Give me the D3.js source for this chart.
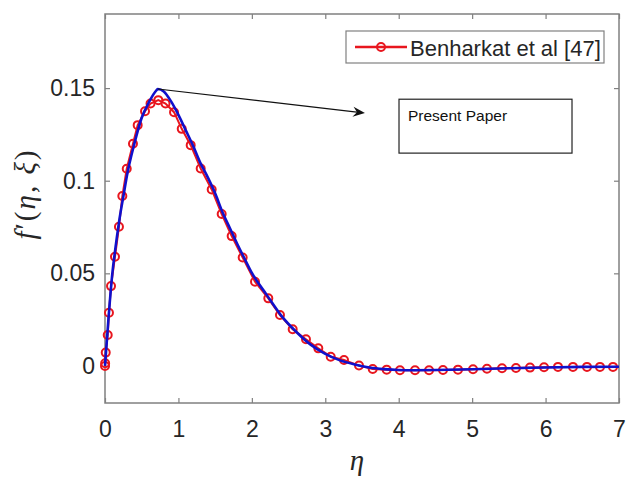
<!DOCTYPE html>
<html>
<head>
<meta charset="utf-8">
<script src="https://cdn.jsdelivr.net/npm/d3@7/dist/d3.min.js"></script>
<style>
  body { margin: 0; background: #fff; }
  text { font-family: "Liberation Sans", Arial, sans-serif; }
</style>
</head>
<body>
<div id="chart-area"></div>
<script>
// values: eta on x, f'(eta, xi) on y

// Benharkat et al [47] (red circles)
var refEta = [0, 0.002, 0.01, 0.037, 0.054, 0.082, 0.136, 0.19, 0.236, 0.296, 0.381, 0.445,
  0.545, 0.62, 0.726, 0.824, 0.94, 1.045, 1.167, 1.303, 1.453, 1.589, 1.725, 1.875,
  2.043, 2.224, 2.383, 2.556, 2.737, 2.905, 3.074, 3.255, 3.459, 3.646, 3.836, 4.017,
  4.222, 4.413, 4.603, 4.807, 5.012, 5.202, 5.407, 5.597, 5.788, 5.979, 6.169, 6.373,
  6.564, 6.741, 6.918];
var refF = [0, 0.0015, 0.0072, 0.0167, 0.0287, 0.0431, 0.059, 0.0751, 0.0917, 0.1065, 0.12, 0.13,
  0.1375, 0.1417, 0.1435, 0.1417, 0.137, 0.128, 0.1192, 0.1066, 0.0953, 0.082, 0.0701, 0.0585,
  0.0455, 0.0365, 0.0275, 0.0198, 0.0144, 0.0095, 0.005, 0.0032, 0.0002, -0.0016, -0.002, -0.0023,
  -0.0023, -0.0023, -0.0022, -0.002, -0.0018, -0.0015, -0.0012, -0.0011, -0.0009, -0.0007, -0.0005, -0.0005,
  -0.0005, -0.0005, -0.0005];

// Present paper (blue line)
var presEta = [0, 0.05, 0.1, 0.15, 0.2, 0.25, 0.3, 0.4, 0.5, 0.6, 0.7, 0.72, 0.8, 0.9, 1.0,
  1.1, 1.2, 1.3, 1.4, 1.5, 1.6, 1.7, 1.8, 1.9, 2.0, 2.2, 2.4, 2.6, 2.8, 3.0, 3.2, 3.4,
  3.6, 3.8, 4.0, 4.2, 4.5, 5.0, 5.5, 6.0, 6.5, 7.0];
var presF = [0, 0.027, 0.05, 0.066, 0.08, 0.0915, 0.103, 0.12, 0.134, 0.1425, 0.1488, 0.1495, 0.1482, 0.1428, 0.1355,
  0.1272, 0.1188, 0.1095, 0.1018, 0.0932, 0.083, 0.0745, 0.066, 0.058, 0.0502, 0.0385, 0.0272, 0.0186, 0.0115, 0.0065, 0.003, 0.0008,
  -0.0008, -0.0017, -0.0022, -0.0023, -0.0022, -0.0018, -0.0012, -0.0008, -0.0005, -0.0004];

var xTicks = [0, 1, 2, 3, 4, 5, 6, 7];
var yTicks = [0, 0.05, 0.1, 0.15];
var legendLabel = "Benharkat et al [47]";
var boxLabel = "Present Paper";

var width = 627, height = 478;
var plotL = 105, plotR = 619, plotT = 14, plotB = 403;
var red = "#e8161e", blue = "#1010cc", axisGray = "#808080", textGray = "#262626";

var svg = d3.select("#chart-area").append("svg")
  .attr("width", width)
  .attr("height", height)
  .style("display", "block");

var x = d3.scaleLinear().domain([0, 7]).range([plotL, plotR]);
var y = d3.scaleLinear().domain([-0.02, 0.19]).range([plotB, plotT]);

// axes, MATLAB style box with inward ticks
function styleAxis(g) {
  g.select(".domain").remove();
  g.selectAll(".tick line").attr("stroke", axisGray).attr("stroke-width", 1.2);
  g.selectAll(".tick text").attr("fill", textGray).style("font-size", "23px");
}
svg.append("g").attr("transform", "translate(0," + plotB + ")")
  .call(d3.axisBottom(x).tickValues(xTicks).tickSize(-5).tickPadding(18).tickFormat(d3.format("d")))
  .call(styleAxis);
svg.append("g").attr("transform", "translate(0," + plotT + ")")
  .call(d3.axisTop(x).tickValues(xTicks).tickSize(-5).tickFormat(""))
  .call(styleAxis);
svg.append("g").attr("transform", "translate(" + plotL + ",0)")
  .call(d3.axisLeft(y).tickValues(yTicks).tickSize(-5).tickPadding(10).tickFormat(function(d) { return d; }))
  .call(styleAxis);
svg.append("g").attr("transform", "translate(" + plotR + ",0)")
  .call(d3.axisRight(y).tickValues(yTicks).tickSize(-5).tickFormat(""))
  .call(styleAxis);

svg.append("rect")
  .attr("x", plotL).attr("y", plotT)
  .attr("width", plotR - plotL).attr("height", plotB - plotT)
  .attr("fill", "none").attr("stroke", axisGray).attr("stroke-width", 1.5);

// axis labels
svg.append("text")
  .attr("x", x(3.5) - 5).attr("y", 470)
  .attr("text-anchor", "middle")
  .style("font-family", "'Liberation Serif', 'DejaVu Serif', serif")
  .style("font-style", "italic")
  .style("font-size", "29px")
  .attr("fill", textGray)
  .text("η");

var ylab = svg.append("text")
  .attr("transform", "translate(35," + 194 + ") rotate(-90)")
  .attr("text-anchor", "middle")
  .style("font-family", "'Liberation Serif', 'DejaVu Serif', serif")
  .style("font-size", "29px")
  .style("letter-spacing", "2px")
  .attr("fill", textGray);
ylab.append("tspan").style("font-style", "italic").text("f");
ylab.append("tspan").text("′(");
ylab.append("tspan").style("font-style", "italic").text("η");
ylab.append("tspan").text(", ");
ylab.append("tspan").style("font-style", "italic").text("ξ");
ylab.append("tspan").text(")");

// reference series
var refData = refEta.map(function(e, i) { return { eta: e, f: refF[i] }; });
var presData = presEta.map(function(e, i) { return { eta: e, f: presF[i] }; });

var refLine = d3.line()
  .x(function(d) { return x(d.eta); })
  .y(function(d) { return y(d.f); });

svg.append("path")
  .datum(refData)
  .attr("d", refLine)
  .attr("fill", "none")
  .attr("stroke", red)
  .attr("stroke-width", 2);

svg.selectAll("circle.ref")
  .data(refData)
  .enter().append("circle")
  .attr("class", "ref")
  .attr("cx", function(d) { return x(d.eta); })
  .attr("cy", function(d) { return y(d.f); })
  .attr("r", 4)
  .attr("fill", "none")
  .attr("stroke", red)
  .attr("stroke-width", 2);

var presLine = d3.line()
  .curve(d3.curveMonotoneX)
  .x(function(d) { return x(d.eta); })
  .y(function(d) { return y(d.f); });

svg.append("path")
  .datum(presData)
  .attr("d", presLine)
  .attr("fill", "none")
  .attr("stroke", blue)
  .attr("stroke-width", 2.6);

// annotation: arrow from the peak to the text box
var peak = presData[11];
var ax0 = x(peak.eta), ay0 = y(peak.f);
var ax1 = x(3.54), ay1 = y(0.1365);
var ang = Math.atan2(ay1 - ay0, ax1 - ax0);

svg.append("line")
  .attr("x1", ax0).attr("y1", ay0)
  .attr("x2", ax1 - 6 * Math.cos(ang))
  .attr("y2", ay1 - 6 * Math.sin(ang))
  .attr("stroke", "#111").attr("stroke-width", 1.2);

svg.append("path")
  .attr("d", "M0,0 L-12,-5 L-8,0 L-12,5 Z")
  .attr("transform", "translate(" + ax1 + "," + ay1 + ") rotate(" + (ang * 180 / Math.PI) + ")")
  .attr("fill", "#111");

var bx0 = x(4.004), by0 = y(0.144), bx1 = x(6.36), by1 = y(0.1149);
svg.append("rect")
  .attr("x", bx0).attr("y", by0)
  .attr("width", bx1 - bx0).attr("height", by1 - by0)
  .attr("fill", "#fff").attr("stroke", "#222").attr("stroke-width", 1.2);
svg.append("text")
  .attr("x", bx0 + 9).attr("y", by0 + 22)
  .style("font-size", "15.5px")
  .attr("fill", "#111")
  .text(boxLabel);

// legend
var lg = svg.append("g").attr("transform", "translate(346,31)");
lg.append("rect")
  .attr("width", 258).attr("height", 32)
  .attr("fill", "#fff").attr("stroke", axisGray).attr("stroke-width", 1.2);
lg.append("line")
  .attr("x1", 9).attr("x2", 61).attr("y1", 16).attr("y2", 16)
  .attr("stroke", red).attr("stroke-width", 2.4);
lg.append("circle")
  .attr("cx", 35).attr("cy", 16).attr("r", 4)
  .attr("fill", "none").attr("stroke", red).attr("stroke-width", 2);
lg.append("text")
  .attr("x", 64).attr("y", 24.5)
  .style("font-size", "22px")
  .attr("fill", textGray)
  .text(legendLabel);
</script>
</body>
</html>
